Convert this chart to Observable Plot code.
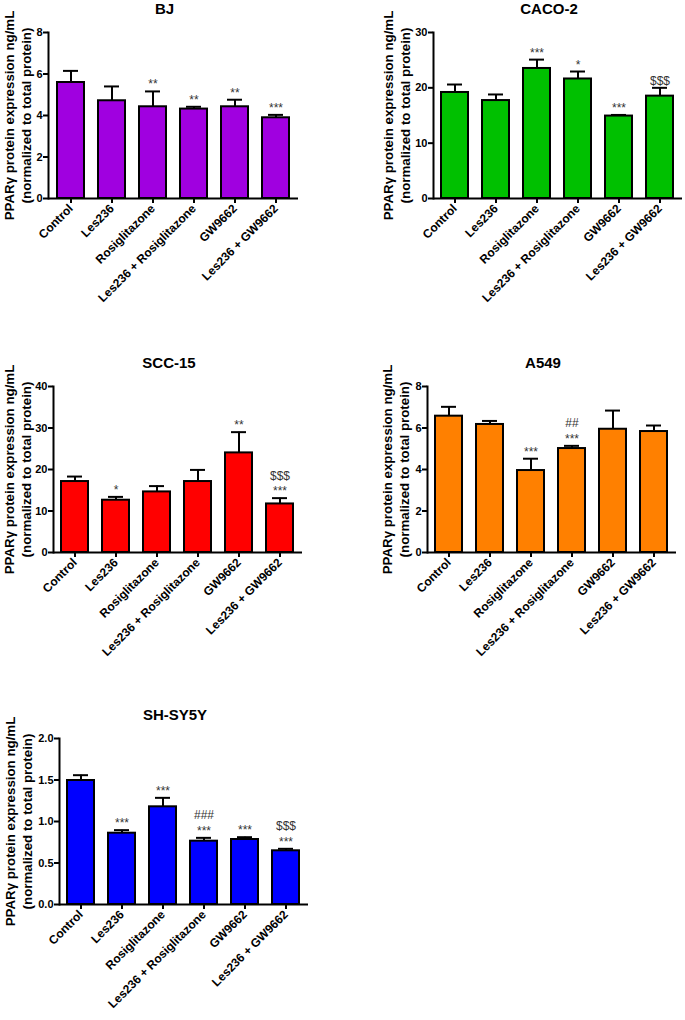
<!DOCTYPE html>
<html>
<head>
<meta charset="utf-8">
<script src="https://cdn.jsdelivr.net/npm/d3@7"></script>
<script src="https://cdn.jsdelivr.net/npm/@observablehq/plot@0.6"></script>
<style>
  html, body { margin: 0; padding: 0; background: #fff; }
  #root { position: relative; width: 685px; height: 1020px; background: #fff; overflow: hidden; }
  .panel { position: absolute; }
</style>
</head>
<body>
<div id="root"></div>
<script>
// ---- data ----
const groups = ["Control", "Les236", "Rosiglitazone", "Les236 + Rosiglitazone", "GW9662", "Les236 + GW9662"];
const yLabel = "PPARγ protein expression ng/mL\n(normalized to total protein)";

const bjMean = [5.59, 4.71, 4.42, 4.31, 4.42, 3.89];
const bjSem  = [0.56, 0.69, 0.74, 0.11, 0.34, 0.14];
const bjSig  = ["", "", "**", "**", "**", "***"];
const bjTicks = [0, 2, 4, 6, 8];

const cacoMean = [19.16, 17.7, 23.5, 21.6, 14.9, 18.5];
const cacoSem  = [1.44, 1.1, 1.6, 1.35, 0.2, 1.5];
const cacoSig  = ["", "", "***", "*", "***", "$$$"];
const cacoTicks = [0, 10, 20, 30];

const sccMean = [17.1, 12.6, 14.6, 17.1, 24.0, 11.7];
const sccSem  = [1.2, 0.8, 1.4, 2.8, 5.0, 1.4];
const sccSig  = ["", "*", "", "", "**", "$$$\n***"];
const sccTicks = [0, 10, 20, 30, 40];

const a549Mean = [6.57, 6.17, 3.95, 5.01, 5.94, 5.83];
const a549Sem  = [0.45, 0.17, 0.57, 0.13, 0.90, 0.29];
const a549Sig  = ["", "", "***", "##\n***", "", ""];
const a549Ticks = [0, 2, 4, 6, 8];

const shMean = [1.494, 0.859, 1.177, 0.763, 0.783, 0.647];
const shSem  = [0.064, 0.037, 0.108, 0.040, 0.028, 0.024];
const shSig  = ["", "***", "***", "###\n***", "***", "$$$\n***"];
const shTicks = [0, 0.5, 1.0, 1.5, 2.0];

// ---- panels (layout) ----
const panels = [
  {title: "BJ", mean: bjMean, sem: bjSem, sig: bjSig, ticks: bjTicks, fmt: d3.format("d"), color: "#A000E0",
   left: 0, top: 0, width: 340, height: 330, mL: 48, mT: 32, mR: 42, mB: 132, labelDx: -31.5},
  {title: "CACO-2", mean: cacoMean, sem: cacoSem, sig: cacoSig, ticks: cacoTicks, fmt: d3.format("d"), color: "#00C000",
   left: 340, top: 0, width: 345, height: 330, mL: 93, mT: 32, mR: 3, mB: 132, labelDx: -37.5},
  {title: "SCC-15", mean: sccMean, sem: sccSem, sig: sccSig, ticks: sccTicks, fmt: d3.format("d"), color: "#FF0000",
   left: 0, top: 330, width: 340, height: 340, mL: 53, mT: 56, mR: 38, mB: 118, labelDx: -36},
  {title: "A549", mean: a549Mean, sem: a549Sem, sig: a549Sig, ticks: a549Ticks, fmt: d3.format("d"), color: "#FF8000",
   left: 340, top: 330, width: 345, height: 340, mL: 87, mT: 56, mR: 9, mB: 118, labelDx: -32},
  {title: "SH-SY5Y", mean: shMean, sem: shSem, sig: shSig, ticks: shTicks, fmt: d3.format(".1f"), color: "#0000FF",
   left: 0, top: 680, width: 340, height: 340, mL: 59, mT: 58, mR: 32, mB: 116, labelDx: -41.5}
];

const FONT = "'Liberation Sans', Arial, Helvetica, sans-serif";
const root = document.getElementById("root");

for (const p of panels) {
  const data = groups.map((g, i) => ({group: g, mean: p.mean[i], top: p.mean[i] + p.sem[i], sig: p.sig[i]}));
  const ymax = p.ticks[p.ticks.length - 1];
  const chart = Plot.plot({
    width: p.width,
    height: p.height,
    marginLeft: p.mL,
    marginTop: p.mT,
    marginRight: p.mR,
    marginBottom: p.mB,
    style: {fontFamily: FONT, color: "black", background: "transparent", overflow: "visible"},
    x: {type: "band", domain: groups, paddingInner: 0.34, paddingOuter: 0.17},
    y: {domain: [0, ymax]},
    marks: [
      Plot.barY(data, {x: "group", y: "mean", fill: p.color, stroke: "black", strokeWidth: 2}),
      Plot.ruleX(data, {x: "group", y1: "mean", y2: "top", stroke: "black", strokeWidth: 2}),
      Plot.tickY(data, {x: "group", y: "top", stroke: "black", strokeWidth: 2, insetLeft: 6, insetRight: 6}),
      Plot.text(data, {x: "group", y: "top", text: "sig", lineAnchor: "bottom", dy: -3, fontSize: 12, lineHeight: 1.3, fill: "#333"}),
      Plot.ruleY([0], {stroke: "black", strokeWidth: 2}),
      Plot.frame({anchor: "left", stroke: "black", strokeWidth: 2}),
      Plot.axisY({ticks: p.ticks, tickFormat: p.fmt, tickSize: 5, tickPadding: 1, strokeWidth: 2, fontSize: 11, fontWeight: "bold", label: null}),
      Plot.axisX({tickRotate: -45, tickSize: 5, tickPadding: 3, strokeWidth: 2, fontSize: 12, fontWeight: "bold", label: null}),
      Plot.text([p.title], {text: d => d, frameAnchor: "top", dx: -9, dy: -23, lineAnchor: "middle", fontSize: 15, fontWeight: "bold"}),
      Plot.text([yLabel], {text: d => d, frameAnchor: "left", textAnchor: "middle", rotate: -90, dx: p.labelDx, lineHeight: 1.28, fontSize: 13.3, fontWeight: "bold"})
    ]
  });
  const holder = document.createElement("div");
  holder.className = "panel";
  holder.style.left = p.left + "px";
  holder.style.top = p.top + "px";
  holder.appendChild(chart);
  root.appendChild(holder);
}
</script>
</body>
</html>
